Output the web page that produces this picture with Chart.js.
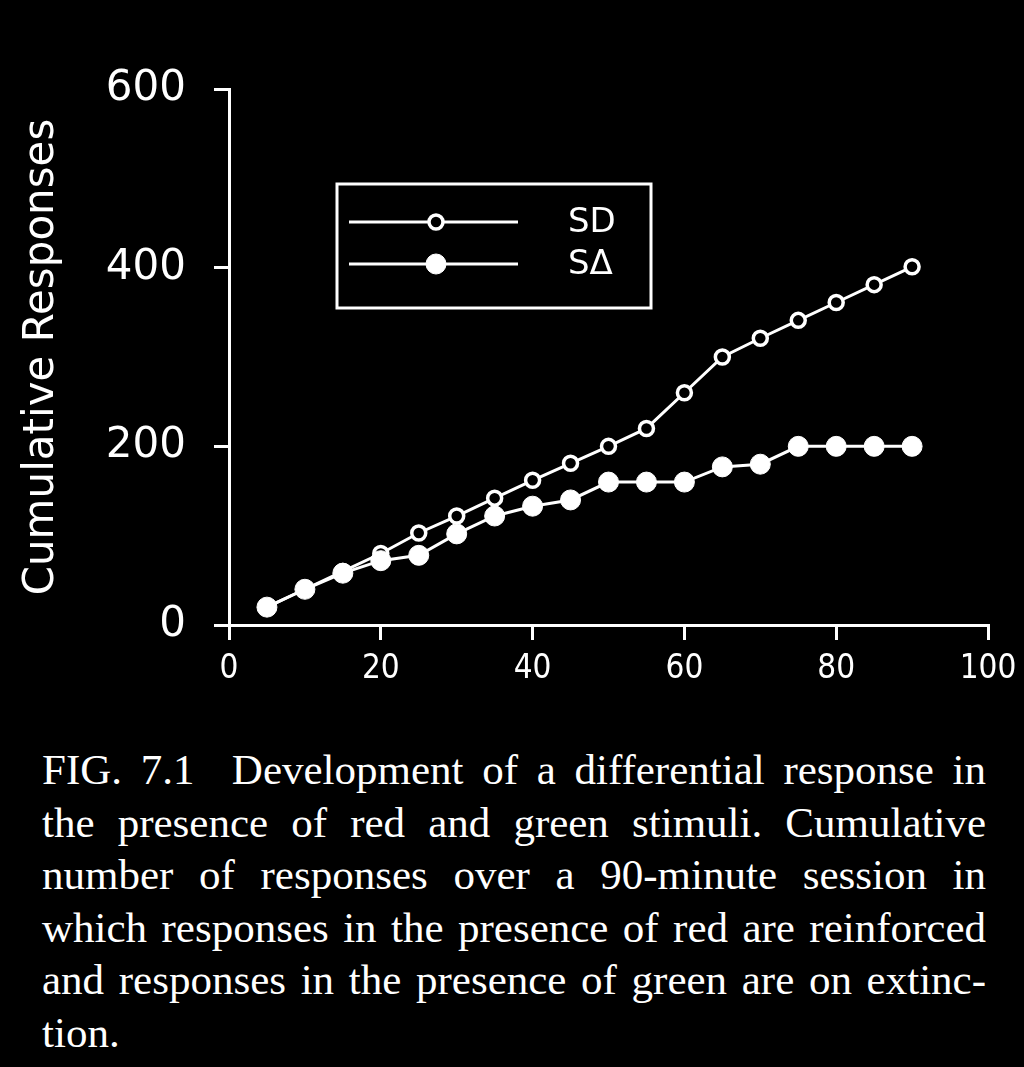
<!DOCTYPE html>
<html lang="en">
<head>
    <meta charset="UTF-8">
    <title>FIG. 7.1 Cumulative Responses</title>
    <script src="https://cdn.jsdelivr.net/npm/chart.js"></script>
    <style>
        html, body { margin: 0; padding: 0; background: #000; }
        body { width: 1024px; height: 1067px; position: relative; overflow: hidden; }
        #wrap { position: absolute; left: 0; top: 0; width: 1024px; height: 720px; }
        #caption {
            position: absolute; left: 42px; top: 744px; width: 944px;
            color: #fff; font-family: "Liberation Serif", serif; font-size: 43px; line-height: 52.5px;
        }
        #caption div { white-space: nowrap; text-align: justify; text-align-last: justify; }
        #caption div.last { text-align-last: left; }
    </style>
</head>
<body>
    <div id="wrap"><canvas id="chart"></canvas></div>
    <div id="caption">
        <div>FIG. 7.1&nbsp; Development of a differential response in</div>
        <div>the presence of red and green stimuli. Cumulative</div>
        <div>number of responses over a 90-minute session in</div>
        <div>which responses in the presence of red are reinforced</div>
        <div>and responses in the presence of green are on extinc-</div>
        <div class="last">tion.</div>
    </div>
    <script>
        // data
        const minutes = [5, 10, 15, 20, 25, 30, 35, 40, 45, 50, 55, 60, 65, 70, 75, 80, 85, 90];
        const sdValues = [20, 40, 60, 80, 103, 122, 142, 162, 181, 200, 220, 260, 300, 321, 341, 361, 381, 401];
        const sDeltaValues = [20, 40, 58, 72, 78, 102, 122, 133, 140, 160, 160, 160, 177, 180, 200, 200, 200, 200];
        const seriesNames = ['SD', 'S\u0394'];
        const xTicks = [0, 20, 40, 60, 80, 100];
        const yTicks = [0, 200, 400, 600];

        const toPoints = (ys) => ys.map((y, i) => ({ x: minutes[i], y: y }));

        const sansFont = '"DejaVu Sans", sans-serif';

        // legend drawn as in the original: line with marker in the middle, inside a box
        const boxLegend = {
            id: 'boxLegend',
            afterDraw(chart) {
                const ctx = chart.ctx;
                ctx.save();
                ctx.strokeStyle = '#fff';
                ctx.lineWidth = 3;
                ctx.strokeRect(337, 184, 314, 124);
                const rows = [222, 264];
                [0, 1].forEach((di, r) => {
                    const ds = chart.data.datasets[di];
                    const y = rows[r];
                    ctx.beginPath();
                    ctx.moveTo(349, y);
                    ctx.lineTo(518, y);
                    ctx.lineWidth = 3;
                    ctx.strokeStyle = '#fff';
                    ctx.stroke();
                    ctx.beginPath();
                    ctx.arc(436, y, ds.pointRadius, 0, Math.PI * 2);
                    ctx.fillStyle = ds.pointBackgroundColor;
                    ctx.fill();
                    ctx.lineWidth = ds.pointBorderWidth;
                    ctx.stroke();
                    ctx.fillStyle = '#fff';
                    ctx.font = '34px ' + sansFont;
                    ctx.textBaseline = 'middle';
                    ctx.textAlign = 'left';
                    ctx.fillText(ds.label, 568, y + 1);
                });
                ctx.restore();
            }
        };

        new Chart(document.getElementById('chart'), {
            type: 'line',
            data: {
                datasets: [{
                    label: seriesNames[0],
                    data: toPoints(sdValues),
                    borderColor: '#fff',
                    borderWidth: 3,
                    pointRadius: 7,
                    pointBorderWidth: 3.5,
                    pointBackgroundColor: '#000',
                    pointBorderColor: '#fff',
                    order: 1
                }, {
                    label: seriesNames[1],
                    data: toPoints(sDeltaValues),
                    borderColor: '#fff',
                    borderWidth: 3,
                    pointRadius: 10,
                    pointBorderWidth: 1,
                    pointBackgroundColor: '#fff',
                    pointBorderColor: '#fff',
                    order: 0
                }]
            },
            options: {
                responsive: true,
                maintainAspectRatio: false,
                animation: false,
                layout: { padding: { top: 89, right: 36, bottom: 0, left: 0 } },
                plugins: {
                    legend: { display: false },
                    tooltip: { enabled: false }
                },
                scales: {
                    x: {
                        type: 'linear',
                        min: 0, max: 100,
                        afterFit: (scale) => {
                            scale.height = 95;
                            scale.paddingLeft = 0;
                            scale.paddingRight = 0;
                        },
                        afterBuildTicks: (scale) => { scale.ticks = xTicks.map(v => ({ value: v })); },
                        ticks: {
                            color: '#fff', padding: 10, maxRotation: 0,
                            font: { family: '"DejaVu Sans Condensed", "DejaVu Sans", sans-serif', size: 33 }
                        },
                        grid: { drawOnChartArea: false, drawTicks: true, tickLength: 15, color: '#fff', lineWidth: 3 },
                        border: { color: '#fff', width: 3 }
                    },
                    y: {
                        min: 0, max: 600,
                        afterFit: (scale) => { scale.width = 229; },
                        afterBuildTicks: (scale) => { scale.ticks = yTicks.map(v => ({ value: v })); },
                        ticks: {
                            color: '#fff', padding: 28,
                            font: { family: sansFont, size: 42 }
                        },
                        grid: { drawOnChartArea: false, drawTicks: true, tickLength: 15, color: '#fff', lineWidth: 3 },
                        border: { color: '#fff', width: 3 },
                        title: {
                            display: true,
                            text: 'Cumulative Responses',
                            color: '#fff',
                            font: { family: sansFont, size: 42 },
                            padding: { top: 17, bottom: 0 }
                        }
                    }
                }
            },
            plugins: [boxLegend]
        });
    </script>
</body>
</html>
